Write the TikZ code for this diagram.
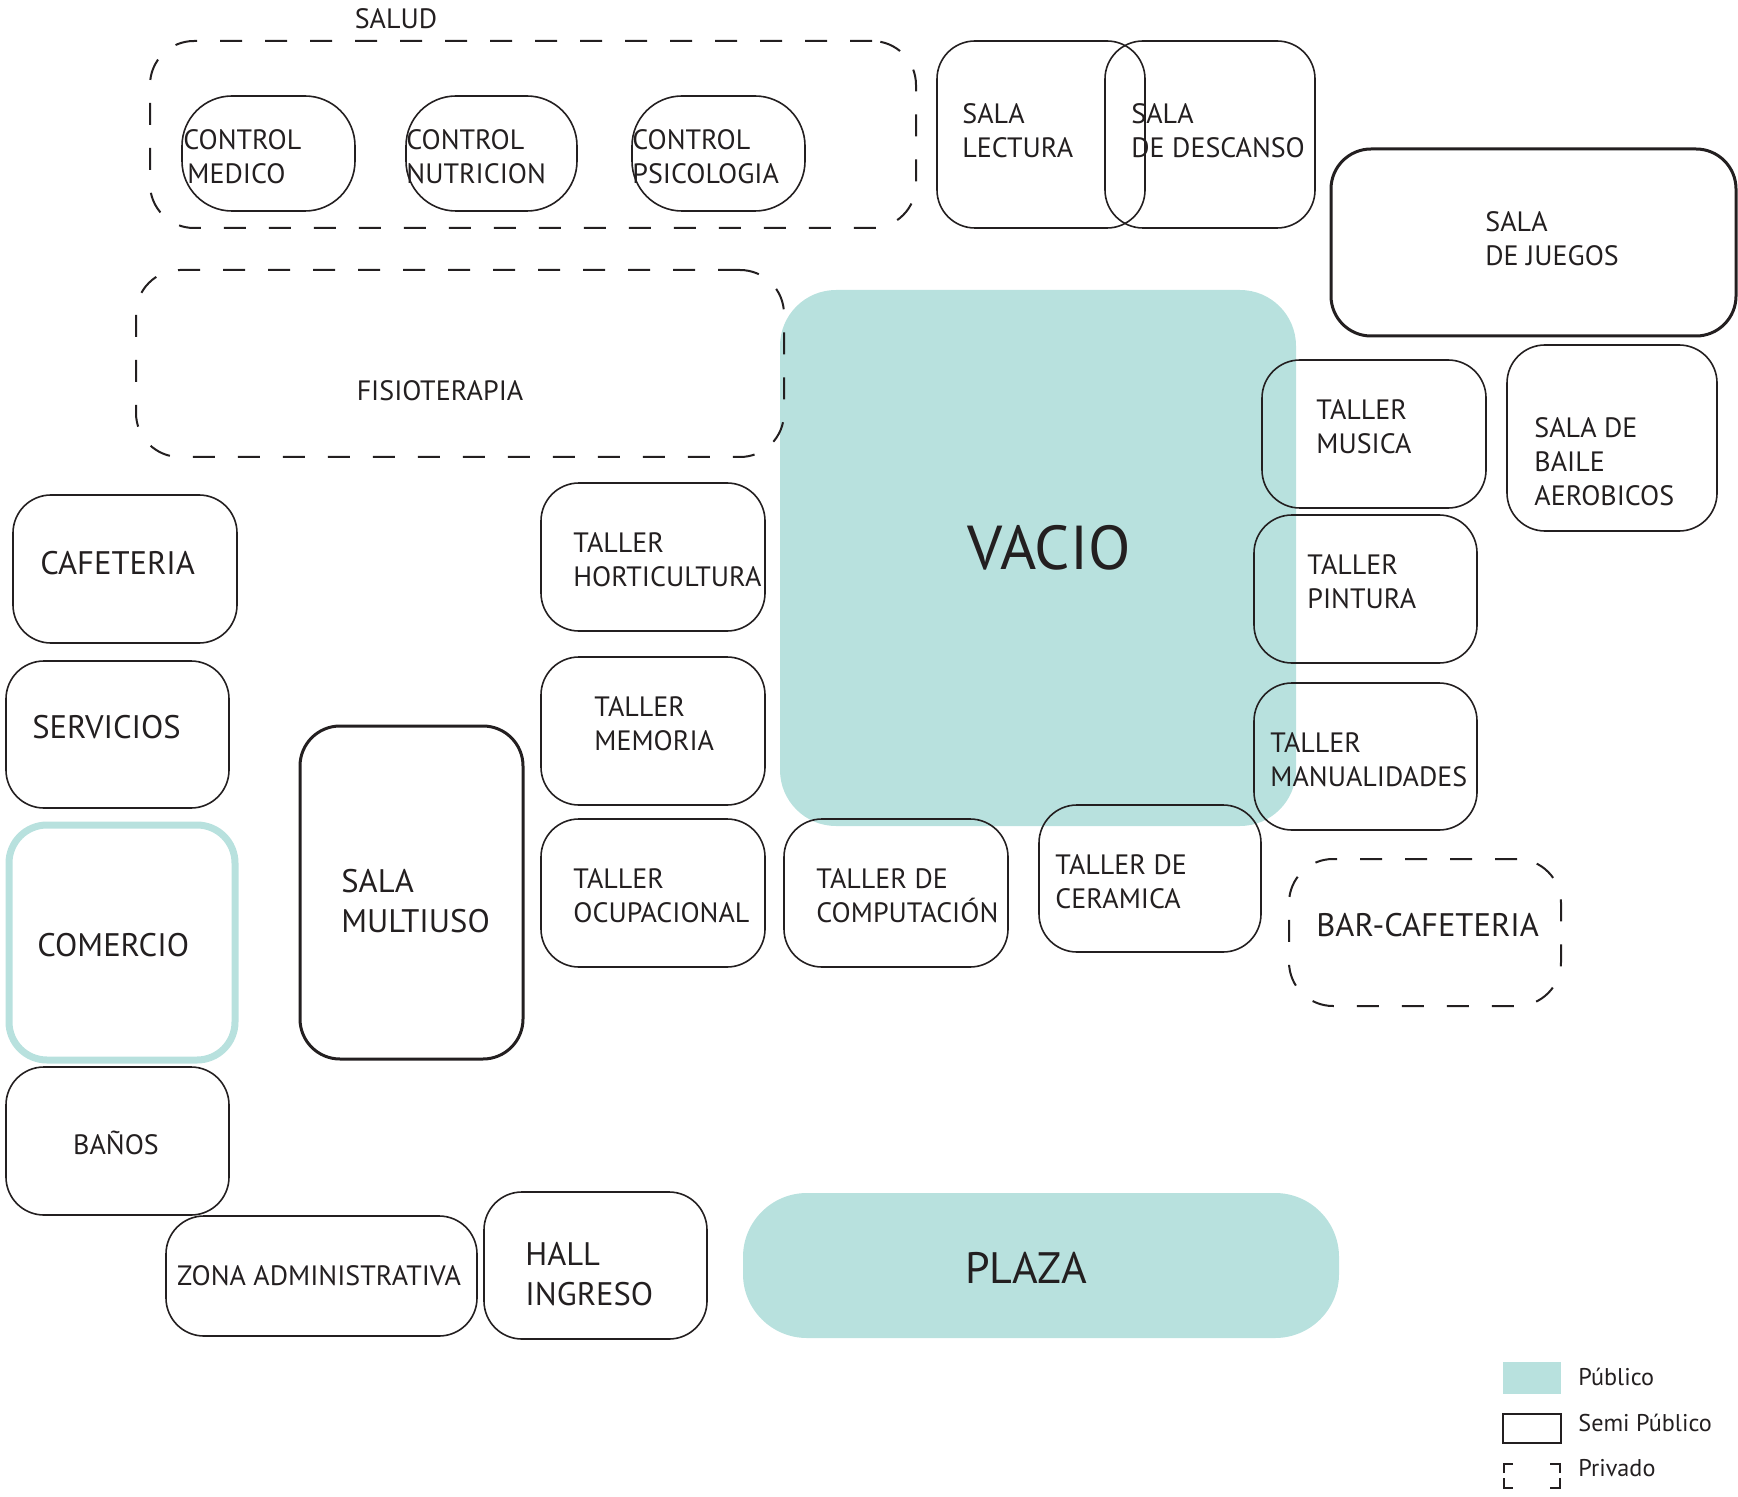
\documentclass[tikz,border=0pt]{standalone}
\usepackage{fontspec}
\setmainfont{PT Sans}
\usetikzlibrary{fit}
\definecolor{teal1}{HTML}{B8E1DE}
\definecolor{ink}{HTML}{231F20}
\begin{document}
\begin{tikzpicture}[x=0.5pt,y=-0.5pt,
  box/.style={draw=ink, line width=0.8pt, rounded corners=19pt, inner sep=0pt},
  cbox/.style={box, rounded corners=25pt},
  tbox/.style={box, line width=1.5pt, rounded corners=20pt},
  dbox/.style={box, line width=1pt, dash pattern=on 11pt off 11.5pt},
  pub/.style={fill=teal1, draw=none, rounded corners=28pt, inner sep=0pt},
  lbl/.style={text=ink, align=left, inner sep=0pt, font=\fontsize{14}{17}\selectfont},
  big/.style={lbl, font=\fontsize{16.3}{20}\selectfont},
  leg/.style={text=ink, inner sep=0pt, font=\fontsize{12.1}{15}\selectfont, anchor=west},
]
\useasboundingbox (0,0) rectangle (1738,1497);
% public fills
\node[pub, fit={(780,290)(1296,826)}] (vacio) {};
\node[pub, rounded corners=32pt, fit={(743,1193)(1339,1338)}] (plaza) {};
% private (dashed)
\node[dbox, rounded corners=22pt, fit={(150,41)(916,228)}] (salud) {};
\node[dbox, rounded corners=22pt, fit={(136,270)(784,457)}] (fisio) {};
\node[dbox, rounded corners=22pt, fit={(1289,859)(1561,1006)}] (bar) {};
% semi public
\node[cbox, fit={(182,96)(355,211)}] (cmed) {};
\node[cbox, fit={(406,96)(577,211)}] (cnut) {};
\node[cbox, fit={(632,96)(805,211)}] (cpsi) {};
\node[box, fit={(937,41)(1145,228)}] (slect) {};
\node[box, fit={(1105,41)(1315,228)}] (sdesc) {};
\node[tbox, fit={(1331,149)(1736,336)}] (sjueg) {};
\node[box, fit={(1262,360)(1486,508)}] (tmus) {};
\node[box, fit={(1507,345)(1717,531)}] (sbaile) {};
\node[box, fit={(1254,515)(1477,663)}] (tpint) {};
\node[box, fit={(1254,683)(1477,830)}] (tmanu) {};
\node[box, fit={(1039,805)(1261,952)}] (tcer) {};
\node[box, fit={(784,819)(1008,967)}] (tcomp) {};
\node[box, fit={(541,819)(765,967)}] (tocup) {};
\node[box, fit={(541,657)(765,805)}] (tmem) {};
\node[box, fit={(541,483)(765,631)}] (thort) {};
\node[box, fit={(13,495)(237,643)}] (cafe) {};
\node[box, fit={(6,661)(229,808)}] (serv) {};
\node[box, draw=teal1, line width=3.5pt, fit={(9,825)(235,1060)}] (comer) {};
\node[tbox, fit={(300,726)(523,1059)}] (smult) {};
\node[box, fit={(6,1067)(229,1215)}] (banos) {};
\node[box, fit={(166,1216)(477,1336)}] (zadm) {};
\node[box, fit={(484,1192)(707,1339)}] (hall) {};
% labels
\node[lbl] (t-salud) at (396,19) {SALUD};
\node[lbl, anchor=west] (t-cmed) at (183,157) {CONTROL\\\hspace{2pt}MEDICO};
\node[lbl, anchor=west] (t-cnut) at (406,157) {CONTROL\\NUTRICION};
\node[lbl, anchor=west] (t-cpsi) at (632,157) {CONTROL\\PSICOLOGIA};
\node[lbl, anchor=west] (t-slect) at (962,131) {SALA\\LECTURA};
\node[lbl, anchor=west] (t-sdesc) at (1131,131) {SALA\\DE DESCANSO};
\node[lbl, anchor=west] (t-sjueg) at (1485,239) {SALA\\DE JUEGOS};
\node[lbl] (t-fisio) at (440,391) {FISIOTERAPIA};
\node[lbl, font=\fontsize{31}{36}\selectfont] (t-vacio) at (1049,548) {VACIO};
\node[lbl, anchor=west] (t-tmus) at (1316,427) {TALLER\\MUSICA};
\node[lbl, anchor=west] (t-sbaile) at (1534,462) {SALA DE\\BAILE\\AEROBICOS};
\node[lbl, anchor=west] (t-tpint) at (1307,582) {TALLER\\PINTURA};
\node[lbl, anchor=west] (t-tmanu) at (1270,760) {TALLER\\MANUALIDADES};
\node[lbl, anchor=west] (t-tcer) at (1055,882) {TALLER DE\\CERAMICA};
\node[big, anchor=west] (t-bar) at (1316,925) {BAR-CAFETERIA};
\node[lbl, anchor=west] (t-tcomp) at (816,896) {TALLER DE\\COMPUTACIÓN};
\node[lbl, anchor=west] (t-tocup) at (573,896) {TALLER\\OCUPACIONAL};
\node[lbl, anchor=west] (t-tmem) at (594,724) {TALLER\\MEMORIA};
\node[lbl, anchor=west] (t-thort) at (573,560) {TALLER\\HORTICULTURA};
\node[big, anchor=west] (t-cafe) at (40,563) {CAFETERIA};
\node[big, anchor=west] (t-serv) at (32,727) {SERVICIOS};
\node[big, anchor=west] (t-comer) at (37,945) {COMERCIO};
\node[big, anchor=west] (t-smult) at (341,901) {SALA\\MULTIUSO};
\node[lbl] (t-banos) at (116,1143) {BAÑOS};
\node[lbl] (t-zadm) at (319,1276) {ZONA ADMINISTRATIVA};
\node[big, anchor=west] (t-hall) at (525,1274) {HALL\\INGRESO};
\node[lbl, font=\fontsize{22}{26}\selectfont] (t-plaza) at (1026,1268) {PLAZA};
% legend
\node[fill=teal1, inner sep=0pt, fit={(1503,1362)(1561,1394)}] (lg-pub) {};
\node[draw=ink, line width=1pt, inner sep=0pt, fit={(1503,1414)(1561,1443)}] (lg-semi) {};
\coordinate (lg-priv-nw) at (1504,1464);
\coordinate (lg-priv-se) at (1560,1488);
\draw[ink, line width=1pt] (lg-priv-nw) ++(0,9) |- ++(9,-9);
\draw[ink, line width=1pt] (lg-priv-nw) ++(0,14) |- ++(9,10);
\draw[ink, line width=1pt] (lg-priv-se) ++(0,-15) |- ++(-10,-9);
\draw[ink, line width=1pt] (lg-priv-se) ++(0,-10) |- ++(-10,10);
\node[leg] (lg-t1) at (1578,1377) {Público};
\node[leg] (lg-t2) at (1578,1423) {Semi Público};
\node[leg] (lg-t3) at (1578,1468) {Privado};
\end{tikzpicture}
\end{document}
